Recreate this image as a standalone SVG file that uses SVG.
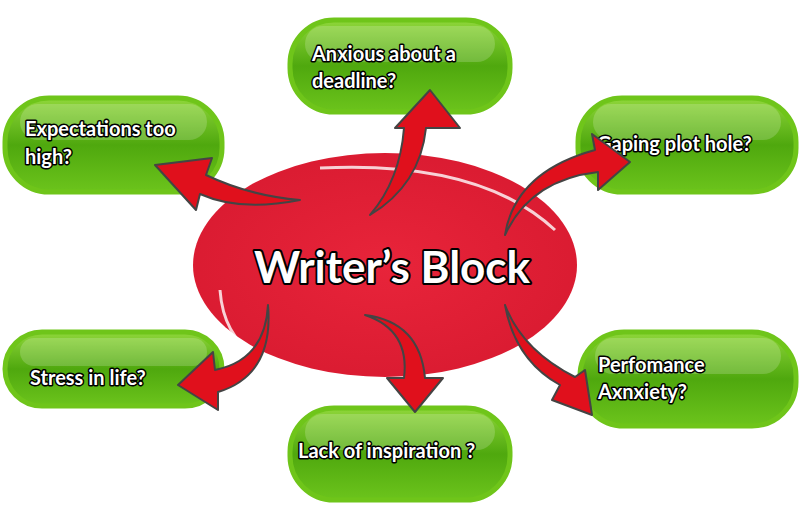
<svg xmlns="http://www.w3.org/2000/svg" width="800" height="530" viewBox="0 0 800 530">
<defs>
<linearGradient id="g" x1="0" y1="0" x2="0" y2="1"><stop offset="0" stop-color="#8fd63a"/><stop offset="0.5" stop-color="#4fa80e"/><stop offset="1" stop-color="#6cc41c"/></linearGradient>
<radialGradient id="r" cx="0.5" cy="0.5" r="0.6"><stop offset="0" stop-color="#e8243a"/><stop offset="1" stop-color="#d81a30"/></radialGradient>
<style>
.box{fill:url(#g);stroke:#6fc51a;stroke-width:5}
.gl{fill:#fff;opacity:0.18}
.t{font-family:Lato,"Open Sans",sans-serif;font-weight:bold;font-size:20px;fill:#fff;stroke:#000;stroke-width:3;paint-order:stroke;stroke-linejoin:round}
.ar{fill:#e0101c;stroke:#444;stroke-width:2;stroke-linejoin:round}
</style>
</defs>
<g id="center">
<ellipse cx="385" cy="265" rx="192" ry="112" fill="url(#r)"/>
<path d="M220,290 Q225,360 300,370" fill="none" stroke="#fff" stroke-width="3" opacity="0.8"/>
<path d="M320,168 Q480,160 555,230" fill="none" stroke="#fff" stroke-width="3" opacity="0.8"/>
<text x="392" y="283" text-anchor="middle" font-family="Lato,sans-serif" font-weight="bold" font-size="44" fill="#fff" stroke="#000" stroke-width="4" paint-order="stroke" stroke-linejoin="round">Writer’s Block</text>
</g>
<g id="n1"><rect class="box" x="290" y="20" width="220" height="92" rx="44"/><rect class="gl" x="305" y="26" width="190" height="36" rx="18"/><text class="t" x="312" y="61">Anxious about a</text><text class="t" x="312" y="88">deadline?</text></g>
<g id="n2"><rect class="box" x="5" y="98" width="217" height="94" rx="44"/><rect class="gl" x="20" y="104" width="187" height="36" rx="18"/><text class="t" x="25" y="136">Expectations too</text><text class="t" x="25" y="164">high?</text></g>
<g id="n3"><rect class="box" x="578" y="98" width="218" height="94" rx="44"/><rect class="gl" x="593" y="104" width="188" height="36" rx="18"/><text class="t" x="597" y="151">Gaping plot hole?</text></g>
<g id="n4"><rect class="box" x="5" y="332" width="217" height="74" rx="37"/><rect class="gl" x="20" y="338" width="187" height="28" rx="14"/><text class="t" x="30" y="385">Stress in life?</text></g>
<g id="n5"><rect class="box" x="290" y="408" width="220" height="92" rx="44"/><rect class="gl" x="305" y="414" width="190" height="36" rx="18"/><text class="t" x="298" y="458">Lack of inspiration ?</text></g>
<g id="n6"><rect class="box" x="580" y="332" width="216" height="94" rx="44"/><rect class="gl" x="595" y="338" width="186" height="36" rx="18"/><text class="t" x="598" y="372">Perfomance</text><text class="t" x="598" y="399">Axnxiety?</text></g>
<g id="connectors">
<path class="ar" d="M370,215 Q420,185 426,128 L460,128 L430,90 L395,128 L404,128 Q400,180 370,215 Z"/>
<path class="ar" d="M300,200 Q240,212 200,194 L196,210 L155,165 L212,158 L206,175 Q250,196 300,200 Z"/>
<path class="ar" d="M505,235 Q515,172 595,150 L592,134 L630,162 L598,190 L598,172 Q530,180 505,235 Z"/>
<path class="ar" d="M268,305 Q265,360 215,370 L213,352 L178,385 L218,410 L218,392 Q274,375 268,305 Z"/>
<path class="ar" d="M365,315 Q410,330 404,378 L387,378 L415,412 L443,378 L425,378 Q420,322 365,315 Z"/>
<path class="ar" d="M505,305 Q515,360 560,385 L552,400 L592,415 L585,370 L575,377 Q522,350 505,305 Z"/>
</g>
</svg>
